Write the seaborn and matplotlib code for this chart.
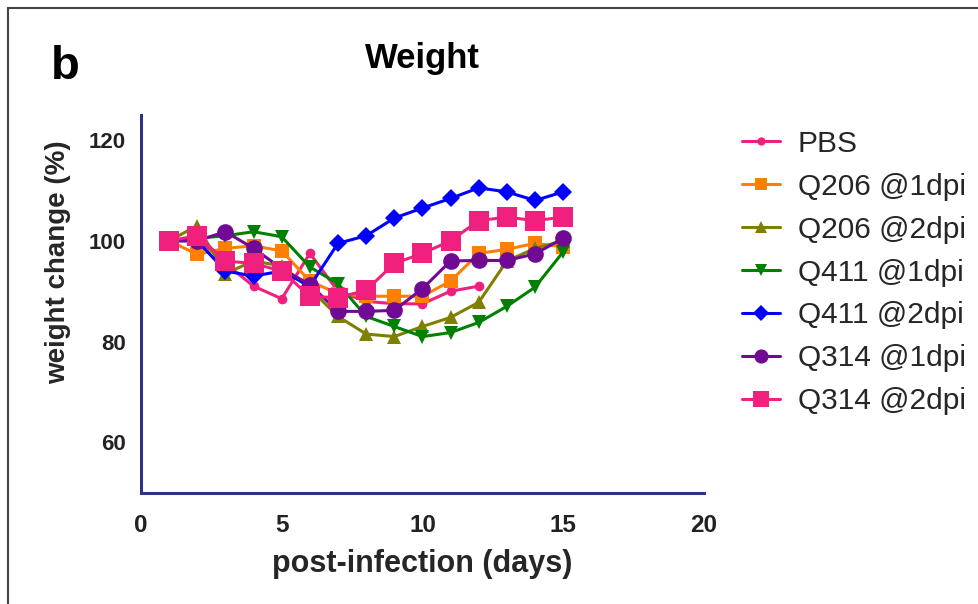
#!/usr/bin/env python
# weight change after infection, panel b
import numpy as np
import pandas as pd
import matplotlib
matplotlib.use("Agg")
import matplotlib.pyplot as plt
from matplotlib.patches import Rectangle
import seaborn as sns

# data
days = list(range(1, 16))
pbs = [100, 100.5, 95.5, 91, 88.5, 97.5, 90, 88, 87.5, 87.5, 90, 91]
q206_1 = [100, 97.3, 98.5, 99, 98, 92, 89.5, 89, 89, 89, 92, 97.5, 98.3, 99.5, 98.8]
q206_2 = [100, 103, 93.5, 96, 95, 90.5, 85, 81.5, 81, 83, 84.8, 87.8, 96, 98.5, 100]
q411_1 = [100, 100.5, 101, 101.8, 100.8, 94.8, 91.5, 85, 83, 81, 81.8, 83.8, 87, 90.8, 97.8]
q411_2 = [100, 100, 94, 93, 94, 91, 99.5, 101, 104.5, 106.5, 108.4, 110.5, 109.7, 108, 109.7]
q314_1 = [100, 100, 101.8, 98.5, 94.5, 91.3, 86, 86, 86.2, 90.5, 96, 96.1, 96.1, 97.4, 100.5]
q314_2 = [100, 101, 96, 95.5, 94, 89, 88.7, 90.2, 95.5, 97.5, 100, 104, 104.7, 104, 104.7]

groups = ["PBS", "Q206 @1dpi", "Q206 @2dpi", "Q411 @1dpi", "Q411 @2dpi", "Q314 @1dpi", "Q314 @2dpi"]
series = [pbs, q206_1, q206_2, q411_1, q411_2, q314_1, q314_2]

# style per group: colour, marker, marker size
styles = {
    "PBS":        ("#F0207F", "o", 7),
    "Q206 @1dpi": ("#FF8000", "s", 9.5),
    "Q206 @2dpi": ("#808000", "^", 10),
    "Q411 @1dpi": ("#008000", "v", 10),
    "Q411 @2dpi": ("#0000FF", "D", 9),
    "Q314 @1dpi": ("#700A95", "o", 12),
    "Q314 @2dpi": ("#F0207F", "s", 14),
}

frames = []
for name, vals in zip(groups, series):
    frames.append(pd.DataFrame({"day": days[:len(vals)], "weight": vals, "group": name}))
df = pd.concat(frames, ignore_index=True)

sns.set_theme(style="white")
plt.rcParams["font.family"] = ["Liberation Sans", "DejaVu Sans"]

navy = "#2E3388"
fig = plt.figure(figsize=(9.79, 6.04), dpi=100)
ax = fig.add_axes([0.144, 0.184, 0.575, 0.626])

for name in groups:
    color, marker, ms = styles[name]
    sns.lineplot(data=df[df["group"] == name], x="day", y="weight", ax=ax,
                 color=color, marker=marker, markersize=ms, markeredgewidth=0,
                 linewidth=2.2, label=name, errorbar=None)

ax.set_xlim(0, 20)
ax.set_ylim(50, 125)
ax.set_xticks([0, 5, 10, 15, 20])
ax.set_yticks([60, 80, 100, 120])
for s in ["top", "right"]:
    ax.spines[s].set_visible(False)
for s in ["left", "bottom"]:
    ax.spines[s].set_color(navy)
    ax.spines[s].set_linewidth(2.2)
ax.tick_params(axis="both", direction="out", length=7, width=2.2, color=navy,
               labelcolor="#222222")
ax.tick_params(axis="x", labelsize=17.5, pad=8)
ax.tick_params(axis="y", labelsize=16, pad=4)
for lbl in ax.get_xticklabels() + ax.get_yticklabels():
    lbl.set_fontweight("bold")

ax.set_xlabel("post-infection (days)", fontsize=22, fontweight="bold", labelpad=9)
ax.set_ylabel("weight change (%)", fontsize=20, fontweight="bold")
ax.yaxis.set_label_coords(-0.125, 0.611)
ax.set_title("Weight", fontsize=25, fontweight="bold", pad=34, color="black")

ax.legend(loc="upper left", bbox_to_anchor=(0.746, 0.805), bbox_transform=fig.transFigure,
          frameon=False, fontsize=21.5, handlelength=1.25, handletextpad=0.6,
          labelspacing=0.5, borderaxespad=0, markerscale=0.85)

fig.text(0.052, 0.87, "b", fontsize=34, fontweight="bold", color="black")

# outer frame of the panel
fig.patches.append(Rectangle((0.008, -0.05), 1.1, 1.037, transform=fig.transFigure,
                             fill=False, edgecolor="#444444", linewidth=1.5))

fig.savefig("out.png", dpi=100)
